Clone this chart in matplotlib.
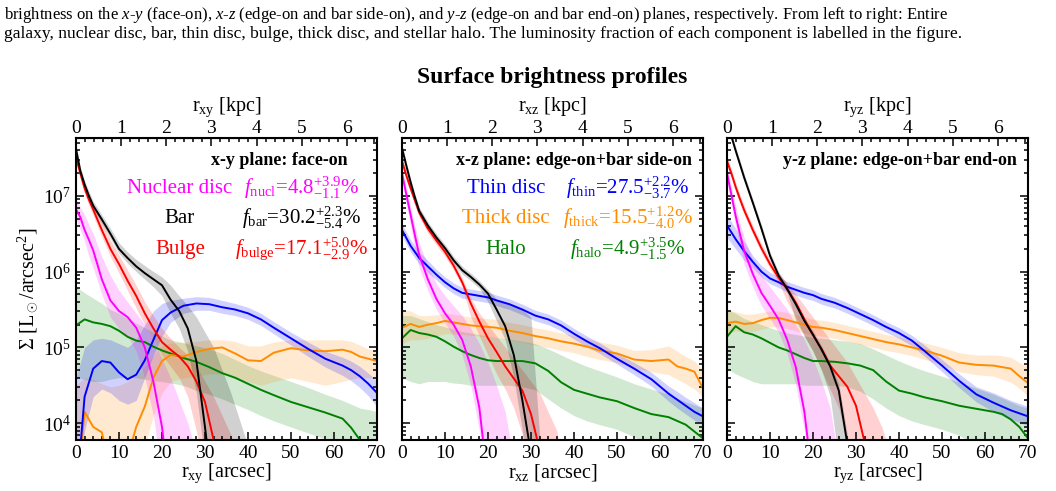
import matplotlib
matplotlib.use("Agg")
import matplotlib.pyplot as plt
import numpy as np
from matplotlib.ticker import MultipleLocator, AutoMinorLocator, LogLocator

plt.rcParams["font.family"] = ["Liberation Serif", "DejaVu Serif"]
plt.rcParams["mathtext.fontset"] = "custom"
plt.rcParams["mathtext.rm"] = "Liberation Serif"
plt.rcParams["mathtext.it"] = "Liberation Serif:italic"
plt.rcParams["mathtext.bf"] = "Liberation Serif:bold"

# radii [arcsec]
r_in = [0, 1, 2, 3, 4, 6, 8, 10, 12, 14, 16, 18, 20, 22, 24, 26, 28, 30, 32, 34, 36, 38, 40]
r_out = [0, 2, 4, 6, 8, 10, 12, 14, 16, 18, 20, 22, 25, 28, 31, 34, 37, 40, 43, 46, 50, 54, 58, 62, 64, 66, 68, 70]

# ---- x-y plane (log10 Sigma) ----
xy_nucl = [6.82, 6.72, 6.55, 6.42, 6.28, 5.9, 5.62, 5.48, 5.4, 5.26, 5.0, 4.55, 3.95, 3.0, 3.0, 3.0, 3.0, 3.0, 3.0, 3.0, 3.0, 3.0, 3.0]
xy_nucl_lo = [6.7, 6.55, 6.4, 6.2, 6.05, 5.7, 5.4, 5.25, 5.15, 4.95, 4.6, 4.1, 3.3, 3.0, 3.0, 3.0, 3.0, 3.0, 3.0, 3.0, 3.0, 3.0, 3.0]
xy_nucl_hi = [6.95, 6.85, 6.75, 6.62, 6.5, 6.2, 5.95, 5.75, 5.6, 5.45, 5.3, 5.1, 4.85, 4.6, 4.3, 4.0, 3.6, 3.0, 3.0, 3.0, 3.0, 3.0, 3.0]
xy_bar = [7.62, 7.33, 7.15, 7.0, 6.87, 6.69, 6.5, 6.3, 6.18, 6.07, 5.98, 5.9, 5.82, 5.63, 5.48, 5.25, 4.82, 3.95, 3.0, 3.0, 3.0, 3.0, 3.0]
xy_bar_lo = [7.57, 7.28, 7.1, 6.95, 6.82, 6.63, 6.44, 6.24, 6.11, 6.0, 5.9, 5.8, 5.68, 5.45, 5.25, 4.95, 4.4, 3.5, 3.0, 3.0, 3.0, 3.0, 3.0]
xy_bar_hi = [7.67, 7.38, 7.2, 7.06, 6.93, 6.75, 6.57, 6.38, 6.26, 6.16, 6.08, 6.0, 5.93, 5.82, 5.68, 5.55, 5.4, 5.2, 5.0, 4.7, 4.4, 4.05, 3.7]
xy_bulge = [7.51, 7.3, 7.1, 6.95, 6.82, 6.55, 6.3, 6.1, 5.88, 5.68, 5.45, 5.25, 5.07, 4.97, 4.88, 4.75, 4.55, 4.28, 3.78, 3.0, 3.0, 3.0, 3.0]
xy_bulge_lo = [7.45, 7.23, 7.03, 6.87, 6.74, 6.46, 6.2, 5.98, 5.75, 5.52, 5.3, 5.1, 4.9, 4.75, 4.6, 4.35, 3.9, 3.3, 3.0, 3.0, 3.0, 3.0, 3.0]
xy_bulge_hi = [7.57, 7.37, 7.17, 7.03, 6.9, 6.65, 6.42, 6.22, 6.02, 5.82, 5.6, 5.42, 5.25, 5.12, 5.0, 4.9, 4.75, 4.55, 4.35, 4.1, 3.85, 3.5, 3.0]
xy_thin = [3.0, 4.35, 4.72, 4.82, 4.8, 4.67, 4.58, 4.64, 4.83, 5.1, 5.36, 5.46, 5.55, 5.58, 5.57, 5.53, 5.5, 5.45, 5.37, 5.26, 5.12, 4.98, 4.85, 4.76, 4.7, 4.62, 4.52, 4.4]
xy_thin_lo = [3.0, 3.9, 4.35, 4.45, 4.4, 4.3, 4.25, 4.3, 4.6, 4.9, 5.15, 5.33, 5.45, 5.49, 5.49, 5.45, 5.42, 5.37, 5.29, 5.18, 5.03, 4.88, 4.74, 4.63, 4.56, 4.47, 4.36, 4.22]
xy_thin_hi = [4.6, 5.0, 5.1, 5.12, 5.1, 5.05, 5.0, 5.1, 5.3, 5.48, 5.58, 5.62, 5.65, 5.67, 5.66, 5.62, 5.58, 5.53, 5.45, 5.34, 5.2, 5.07, 4.95, 4.87, 4.82, 4.75, 4.66, 4.56]
xy_thick = [3.0, 4.15, 3.95, 3.88, 3.4, 3.2, 3.55, 3.95, 4.22, 4.6, 4.82, 4.9, 4.88, 4.94, 4.98, 5.0, 4.92, 4.83, 4.82, 4.93, 4.99, 4.96, 4.95, 4.97, 4.94, 4.88, 4.85, 4.82]
xy_thick_lo = [3.0, 3.0, 3.0, 3.0, 3.0, 3.0, 3.0, 3.3, 3.7, 4.1, 4.4, 4.55, 4.6, 4.62, 4.65, 4.65, 4.6, 4.55, 4.5, 4.55, 4.6, 4.55, 4.5, 4.55, 4.58, 4.6, 4.6, 4.6]
xy_thick_hi = [4.5, 4.6, 4.58, 4.52, 4.48, 4.5, 4.55, 4.62, 4.75, 4.9, 5.02, 5.06, 5.07, 5.08, 5.1, 5.1, 5.08, 5.02, 5.02, 5.07, 5.1, 5.1, 5.1, 5.1, 5.08, 5.03, 4.98, 4.95]
xy_halo = [5.29, 5.37, 5.33, 5.31, 5.28, 5.22, 5.14, 5.09, 5.07, 5.01, 4.96, 4.92, 4.86, 4.81, 4.74, 4.66, 4.6, 4.52, 4.44, 4.37, 4.28, 4.21, 4.14, 4.06, 3.94, 3.78, 3.65, 3.5]
xy_halo_lo = [4.6, 4.58, 4.55, 4.55, 4.58, 4.6, 4.6, 4.6, 4.58, 4.56, 4.55, 4.53, 4.5, 4.43, 4.38, 4.32, 4.25, 4.18, 4.1, 4.03, 3.95, 3.87, 3.79, 3.72, 3.68, 3.64, 3.6, 3.55]
xy_halo_hi = [5.8, 5.72, 5.65, 5.58, 5.5, 5.45, 5.38, 5.32, 5.26, 5.2, 5.15, 5.1, 5.06, 5.02, 4.98, 4.92, 4.84, 4.76, 4.69, 4.63, 4.55, 4.47, 4.38, 4.3, 4.25, 4.2, 4.18, 4.15]

# ---- x-z plane ----
xz_nucl = [7.3, 7.02, 6.75, 6.48, 6.22, 5.9, 5.64, 5.45, 5.3, 5.1, 4.75, 4.2, 3.2, 3.0, 3.0, 3.0, 3.0, 3.0, 3.0, 3.0, 3.0, 3.0, 3.0]
xz_nucl_lo = [7.2, 6.9, 6.6, 6.3, 6.05, 5.75, 5.5, 5.32, 5.15, 4.9, 4.5, 3.9, 3.0, 3.0, 3.0, 3.0, 3.0, 3.0, 3.0, 3.0, 3.0, 3.0, 3.0]
xz_nucl_hi = [7.38, 7.1, 6.85, 6.6, 6.38, 6.08, 5.84, 5.68, 5.55, 5.42, 5.25, 5.05, 4.8, 4.5, 4.15, 3.5, 3.0, 3.0, 3.0, 3.0, 3.0, 3.0, 3.0]
xz_bar = [7.63, 7.4, 7.18, 6.98, 6.8, 6.61, 6.45, 6.31, 6.15, 6.02, 5.93, 5.83, 5.71, 5.5, 5.28, 4.9, 4.3, 3.6, 3.0, 3.0, 3.0, 3.0, 3.0]
xz_bar_lo = [7.58, 7.35, 7.13, 6.93, 6.75, 6.56, 6.4, 6.26, 6.1, 5.97, 5.88, 5.78, 5.6, 5.35, 5.1, 4.6, 3.9, 3.0, 3.0, 3.0, 3.0, 3.0, 3.0]
xz_bar_hi = [7.68, 7.45, 7.23, 7.03, 6.85, 6.66, 6.5, 6.36, 6.2, 6.07, 5.98, 5.88, 5.76, 5.64, 5.6, 5.56, 5.5, 5.4, 3.85, 3.0, 3.0, 3.0, 3.0]
xz_bulge = [7.46, 7.27, 7.1, 6.94, 6.78, 6.57, 6.41, 6.26, 6.08, 5.86, 5.58, 5.34, 5.12, 4.94, 4.75, 4.59, 4.43, 4.12, 3.65, 3.0, 3.0, 3.0, 3.0]
xz_bulge_lo = [7.4, 7.21, 7.04, 6.88, 6.72, 6.51, 6.35, 6.2, 6.02, 5.8, 5.4, 5.15, 4.9, 4.65, 4.45, 4.2, 3.85, 3.0, 3.0, 3.0, 3.0, 3.0, 3.0]
xz_bulge_hi = [7.52, 7.33, 7.16, 7.0, 6.84, 6.63, 6.47, 6.32, 6.14, 5.92, 5.65, 5.45, 5.3, 5.15, 5.0, 4.85, 4.7, 4.55, 4.4, 4.15, 3.9, 3.3, 3.0]
xz_thin = [6.55, 6.34, 6.18, 6.07, 5.96, 5.86, 5.78, 5.72, 5.7, 5.68, 5.66, 5.62, 5.57, 5.5, 5.42, 5.37, 5.29, 5.18, 5.08, 4.99, 4.85, 4.72, 4.58, 4.39, 4.31, 4.23, 4.15, 4.09]
xz_thin_lo = [6.47, 6.26, 6.1, 5.99, 5.89, 5.79, 5.71, 5.65, 5.63, 5.61, 5.59, 5.55, 5.5, 5.43, 5.35, 5.3, 5.22, 5.11, 5.01, 4.92, 4.78, 4.64, 4.49, 4.29, 4.2, 4.12, 4.04, 3.98]
xz_thin_hi = [6.63, 6.42, 6.26, 6.15, 6.03, 5.93, 5.85, 5.79, 5.77, 5.75, 5.73, 5.69, 5.64, 5.57, 5.49, 5.44, 5.36, 5.25, 5.15, 5.06, 4.92, 4.8, 4.67, 4.49, 4.42, 4.34, 4.27, 4.2]
xz_thick = [5.26, 5.31, 5.27, 5.3, 5.32, 5.35, 5.33, 5.31, 5.29, 5.28, 5.27, 5.26, 5.22, 5.19, 5.15, 5.12, 5.08, 5.05, 5.01, 4.96, 4.92, 4.84, 4.82, 4.84, 4.75, 4.72, 4.68, 4.46]
xz_thick_lo = [5.05, 5.1, 5.1, 5.12, 5.15, 5.18, 5.18, 5.17, 5.16, 5.15, 5.14, 5.13, 5.1, 5.07, 5.03, 5.0, 4.96, 4.93, 4.88, 4.84, 4.8, 4.72, 4.68, 4.64, 4.58, 4.52, 4.45, 4.35]
xz_thick_hi = [5.5, 5.48, 5.42, 5.42, 5.43, 5.45, 5.44, 5.42, 5.4, 5.39, 5.38, 5.37, 5.33, 5.3, 5.26, 5.23, 5.19, 5.16, 5.12, 5.07, 5.03, 4.96, 4.97, 5.02, 4.95, 4.88, 4.82, 4.7]
xz_halo = [5.12, 5.23, 5.19, 5.17, 5.14, 5.08, 5.01, 4.95, 4.9, 4.86, 4.83, 4.82, 4.82, 4.82, 4.79, 4.69, 4.54, 4.44, 4.39, 4.34, 4.29, 4.2, 4.12, 4.08, 4.03, 3.98, 3.89, 3.8]
xz_halo_lo = [4.6, 4.55, 4.52, 4.55, 4.55, 4.55, 4.53, 4.52, 4.5, 4.5, 4.5, 4.5, 4.5, 4.48, 4.44, 4.32, 4.2, 4.1, 4.03, 3.98, 3.92, 3.82, 3.7, 3.6, 3.55, 3.5, 3.45, 3.4]
xz_halo_hi = [5.42, 5.42, 5.38, 5.34, 5.3, 5.27, 5.24, 5.21, 5.19, 5.17, 5.15, 5.13, 5.11, 5.08, 5.05, 4.98, 4.9, 4.82, 4.75, 4.69, 4.61, 4.52, 4.45, 4.38, 4.33, 4.28, 4.24, 4.2]

# ---- y-z plane ----
yz_nucl = [7.3, 7.02, 6.74, 6.5, 6.27, 5.97, 5.72, 5.55, 5.37, 5.1, 4.74, 4.15, 3.2, 3.0, 3.0, 3.0, 3.0, 3.0, 3.0, 3.0, 3.0, 3.0, 3.0]
yz_nucl_lo = [7.2, 6.9, 6.6, 6.35, 6.1, 5.8, 5.55, 5.38, 5.2, 4.92, 4.5, 3.9, 3.0, 3.0, 3.0, 3.0, 3.0, 3.0, 3.0, 3.0, 3.0, 3.0, 3.0]
yz_nucl_hi = [7.38, 7.12, 6.87, 6.64, 6.45, 6.15, 5.95, 5.8, 5.65, 5.5, 5.3, 5.1, 4.85, 4.55, 4.2, 3.5, 3.0, 3.0, 3.0, 3.0, 3.0, 3.0, 3.0]
yz_bar = [8.0, 7.79, 7.6, 7.42, 7.24, 6.91, 6.57, 6.21, 5.95, 5.77, 5.57, 5.35, 5.17, 4.97, 4.75, 4.43, 3.72, 3.0, 3.0, 3.0, 3.0, 3.0, 3.0]
yz_bar_lo = [7.95, 7.74, 7.55, 7.37, 7.19, 6.86, 6.52, 6.16, 5.9, 5.72, 5.35, 5.15, 4.95, 4.7, 4.35, 3.5, 3.0, 3.0, 3.0, 3.0, 3.0, 3.0, 3.0]
yz_bar_hi = [8.05, 7.84, 7.65, 7.47, 7.29, 6.96, 6.62, 6.26, 6.0, 5.82, 5.62, 5.4, 5.22, 5.02, 4.8, 4.52, 3.85, 3.0, 3.0, 3.0, 3.0, 3.0, 3.0]
yz_bulge = [7.46, 7.3, 7.12, 6.96, 6.81, 6.55, 6.31, 6.1, 5.92, 5.77, 5.59, 5.37, 5.16, 4.98, 4.76, 4.62, 4.48, 4.23, 3.75, 3.0, 3.0, 3.0, 3.0]
yz_bulge_lo = [7.4, 7.24, 7.06, 6.9, 6.75, 6.49, 6.25, 6.04, 5.86, 5.6, 5.4, 5.15, 4.95, 4.7, 4.45, 4.2, 3.75, 3.0, 3.0, 3.0, 3.0, 3.0, 3.0]
yz_bulge_hi = [7.52, 7.36, 7.18, 7.02, 6.87, 6.61, 6.37, 6.16, 5.98, 5.85, 5.7, 5.55, 5.4, 5.25, 5.1, 4.95, 4.8, 4.6, 4.4, 4.2, 3.95, 3.6, 3.0]
yz_thin = [6.61, 6.43, 6.27, 6.13, 6.0, 5.91, 5.86, 5.8, 5.76, 5.72, 5.69, 5.64, 5.59, 5.52, 5.44, 5.36, 5.27, 5.19, 5.09, 4.95, 4.76, 4.56, 4.38, 4.27, 4.22, 4.17, 4.13, 4.09]
yz_thin_lo = [6.45, 6.3, 6.15, 6.05, 5.93, 5.84, 5.79, 5.73, 5.69, 5.65, 5.62, 5.57, 5.52, 5.45, 5.37, 5.29, 5.2, 5.12, 5.02, 4.88, 4.68, 4.47, 4.28, 4.15, 4.1, 4.05, 4.01, 3.97]
yz_thin_hi = [6.75, 6.57, 6.39, 6.21, 6.08, 5.99, 5.93, 5.87, 5.83, 5.79, 5.76, 5.71, 5.66, 5.59, 5.51, 5.43, 5.34, 5.26, 5.16, 5.03, 4.84, 4.65, 4.48, 4.4, 4.35, 4.3, 4.26, 4.22]
yz_thick = [5.32, 5.34, 5.31, 5.32, 5.36, 5.39, 5.39, 5.36, 5.33, 5.3, 5.27, 5.26, 5.23, 5.19, 5.15, 5.11, 5.07, 5.04, 5.0, 4.96, 4.89, 4.8, 4.77, 4.76, 4.74, 4.72, 4.62, 4.53]
yz_thick_lo = [5.18, 5.22, 5.2, 5.21, 5.24, 5.27, 5.27, 5.25, 5.22, 5.19, 5.16, 5.15, 5.12, 5.08, 5.04, 5.0, 4.96, 4.93, 4.89, 4.84, 4.77, 4.68, 4.64, 4.62, 4.58, 4.54, 4.46, 4.36]
yz_thick_hi = [5.5, 5.47, 5.44, 5.44, 5.46, 5.48, 5.48, 5.46, 5.43, 5.4, 5.37, 5.36, 5.33, 5.29, 5.25, 5.21, 5.17, 5.14, 5.1, 5.06, 5.0, 4.93, 4.9, 4.9, 4.89, 4.87, 4.8, 4.75]
yz_halo = [5.14, 5.28, 5.2, 5.17, 5.12, 5.06, 5.0, 4.96, 4.91, 4.86, 4.82, 4.82, 4.81, 4.79, 4.76, 4.7, 4.55, 4.43, 4.39, 4.34, 4.29, 4.23, 4.19, 4.15, 4.12, 4.05, 3.95, 3.8]
yz_halo_lo = [4.72, 4.65, 4.6, 4.55, 4.52, 4.52, 4.52, 4.52, 4.52, 4.5, 4.5, 4.5, 4.5, 4.48, 4.42, 4.32, 4.2, 4.1, 4.03, 3.98, 3.92, 3.84, 3.72, 3.62, 3.57, 3.52, 3.47, 3.42]
yz_halo_hi = [5.5, 5.45, 5.38, 5.34, 5.3, 5.26, 5.22, 5.19, 5.17, 5.15, 5.13, 5.12, 5.1, 5.08, 5.05, 4.98, 4.9, 4.82, 4.75, 4.69, 4.62, 4.54, 4.46, 4.38, 4.33, 4.28, 4.23, 4.2]

arcsec_per_kpc = 10.5

c_nucl, c_bar, c_bulge = "#ff00ff", "black", "#ff0000"
c_thin, c_thick, c_halo = "#0000ff", "#ff8c00", "#008000"

planes = [
    ("xy", "x-y plane: face-on", 0.904,
     [xy_halo, xy_thick, xy_thin], [xy_halo_lo, xy_thick_lo, xy_thin_lo], [xy_halo_hi, xy_thick_hi, xy_thin_hi],
     [xy_bulge, xy_bar, xy_nucl], [xy_bulge_lo, xy_bar_lo, xy_nucl_lo], [xy_bulge_hi, xy_bar_hi, xy_nucl_hi]),
    ("xz", "x-z plane: edge-on+bar side-on", 0.963,
     [xz_halo, xz_thick, xz_thin], [xz_halo_lo, xz_thick_lo, xz_thin_lo], [xz_halo_hi, xz_thick_hi, xz_thin_hi],
     [xz_bulge, xz_bar, xz_nucl], [xz_bulge_lo, xz_bar_lo, xz_nucl_lo], [xz_bulge_hi, xz_bar_hi, xz_nucl_hi]),
    ("yz", "y-z plane: edge-on+bar end-on", 0.963,
     [yz_halo, yz_thick, yz_thin], [yz_halo_lo, yz_thick_lo, yz_thin_lo], [yz_halo_hi, yz_thick_hi, yz_thin_hi],
     [yz_bulge, yz_bar, yz_nucl], [yz_bulge_lo, yz_bar_lo, yz_nucl_lo], [yz_bulge_hi, yz_bar_hi, yz_nucl_hi]),
]
outer_colors = [c_halo, c_thick, c_thin]
inner_colors = [c_bulge, c_bar, c_nucl]

fig = plt.figure(figsize=(10.56, 4.91), dpi=100)

fig.text(0.004, 0.962, "brightness on the $x$-$y$ (face-on), $x$-$z$ (edge-on and bar side-on), and $y$-$z$ "
         "(edge-on and bar end-on) planes, respectively. From left to right: Entire",
         fontsize=12.0, va="baseline", ha="left")
fig.text(0.004, 0.922, "galaxy, nuclear disc, bar, thin disc, bulge, thick disc, and stellar halo. "
         "The luminosity fraction of each component is labelled in the figure.",
         fontsize=12.6, va="baseline", ha="left")
fig.text(0.523, 0.843, "Surface brightness profiles", fontsize=17, fontweight="bold", ha="center", va="center")

lefts = [76 / 1056, 402 / 1056, 727 / 1056]
axes_list = []
for i, (name, title, tx, outs, outs_lo, outs_hi, ins, ins_lo, ins_hi) in enumerate(planes):
    ax = fig.add_axes([lefts[i], 0.1039, 0.285, 0.615])
    axes_list.append(ax)
    for m, lo, hi, c in zip(outs, outs_lo, outs_hi, outer_colors):
        ax.fill_between(r_out, 10 ** np.array(lo), 10 ** np.array(hi), color=c, alpha=0.18, lw=0)
    for m, lo, hi, c in zip(ins, ins_lo, ins_hi, inner_colors):
        ax.fill_between(r_in, 10 ** np.array(lo), 10 ** np.array(hi), color=c, alpha=0.18, lw=0)
    for m, c in zip(outs, outer_colors):
        ax.plot(r_out, 10 ** np.array(m), color=c, lw=1.4)
    for m, c in zip(ins, inner_colors):
        ax.plot(r_in, 10 ** np.array(m), color=c, lw=1.4)

    ax.set_yscale("log")
    ax.set_xlim(0, 70)
    ax.set_ylim(6000, 5.8e7)
    ax.xaxis.set_major_locator(MultipleLocator(10))
    ax.xaxis.set_minor_locator(MultipleLocator(2))
    ax.yaxis.set_major_locator(LogLocator(base=10, numticks=10))
    ax.yaxis.set_minor_locator(LogLocator(base=10, subs=np.arange(2, 10), numticks=10))
    ax.tick_params(which="both", direction="in", right=True, top=False, labelsize=14, width=1.1)
    ax.tick_params(which="major", length=6)
    ax.tick_params(which="minor", length=3)
    for s in ax.spines.values():
        s.set_linewidth(1.5)
    ax.set_xlabel(r"r$_{\rm %s}$ [arcsec]" % name, fontsize=14.5, labelpad=0)
    if i == 0:
        ax.set_ylabel(r"$\Sigma$ [L$_\odot$/arcsec$^2$]", fontsize=14.5, labelpad=2)
    else:
        ax.tick_params(labelleft=False)

    sec = ax.secondary_xaxis("top", functions=(lambda x: x / arcsec_per_kpc, lambda k: k * arcsec_per_kpc))
    sec.set_xticks(range(7))
    sec.xaxis.set_minor_locator(AutoMinorLocator(5))
    sec.tick_params(which="both", direction="in", labelsize=14, width=1.1, pad=1)
    sec.tick_params(which="major", length=6)
    sec.tick_params(which="minor", length=3)
    sec.set_xlabel(r"r$_{\rm %s}$ [kpc]" % name, fontsize=14.5, labelpad=6)

    ax.text(tx, 0.927, title, transform=ax.transAxes, fontsize=13, fontweight="bold", ha="right", va="center")

# component names and luminosity fractions
rows_y = [0.834, 0.735, 0.632]
labels_left = [("Nuclear disc", r"$f_{\rm nucl}$=4.8$^{+3.9}_{-1.1}$%", c_nucl),
               ("Bar", r"$f_{\rm bar}$=30.2$^{+2.3}_{-5.4}$%", c_bar),
               ("Bulge", r"$f_{\rm bulge}$=17.1$^{+5.0}_{-2.9}$%", c_bulge)]
labels_mid = [("Thin disc", r"$f_{\rm thin}$=27.5$^{+2.2}_{-3.7}$%", c_thin),
              ("Thick disc", r"$f_{\rm thick}$=15.5$^{+1.2}_{-4.0}$%", c_thick),
              ("Halo", r"$f_{\rm halo}$=4.9$^{+3.5}_{-1.5}$%", c_halo)]
for ax, labs in zip(axes_list[:2], [labels_left, labels_mid]):
    for y, (nm, fr, c) in zip(rows_y, labs):
        ax.text(0.345, y, nm, transform=ax.transAxes, color=c, fontsize=15, ha="center", va="center")
        ax.text(0.75, y, fr, transform=ax.transAxes, color=c, fontsize=15, ha="center", va="center")

fig.savefig("out.png", dpi=100)
